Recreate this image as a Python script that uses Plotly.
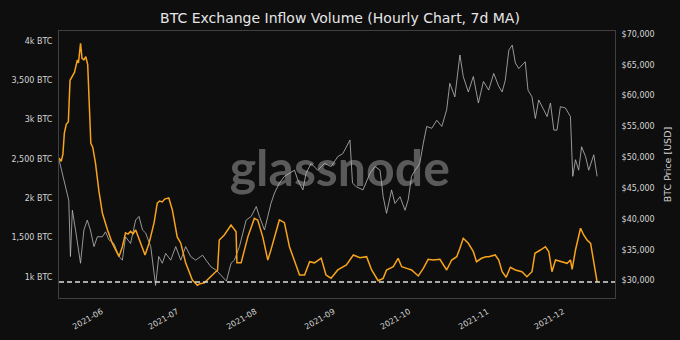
import plotly.graph_objects as go

# ---------------- data ----------------
inflow_dates = [
    "2021-05-15 04:00", "2021-05-16 00:00", "2021-05-16 16:00", "2021-05-17 06:00", "2021-05-18 00:00",
    "2021-05-18 20:00", "2021-05-19 12:00", "2021-05-20 12:00", "2021-05-21 06:00", "2021-05-22 10:00",
    "2021-05-22 20:00", "2021-05-23 16:00", "2021-05-24 06:00", "2021-05-25 00:00", "2021-05-25 18:00",
    "2021-05-26 12:00", "2021-05-27 00:00", "2021-05-27 18:00", "2021-05-28 12:00", "2021-05-29 14:00",
    "2021-05-30 22:00", "2021-06-01 08:00", "2021-06-03 08:00", "2021-06-05 06:00", "2021-06-07 22:00",
    "2021-06-09 06:00", "2021-06-10 12:00", "2021-06-11 12:00", "2021-06-12 12:00", "2021-06-13 12:00",
    "2021-06-14 12:00", "2021-06-16 12:00", "2021-06-18 06:00", "2021-06-19 20:00", "2021-06-21 20:00",
    "2021-06-23 02:00", "2021-06-24 00:00", "2021-06-25 02:00", "2021-06-26 00:00", "2021-06-27 16:00",
    "2021-06-29 02:00", "2021-07-01 00:00", "2021-07-02 10:00", "2021-07-04 08:00", "2021-07-07 00:00",
    "2021-07-09 00:00", "2021-07-10 00:00", "2021-07-11 18:00", "2021-07-13 16:00", "2021-07-15 16:00",
    "2021-07-17 00:00", "2021-07-17 16:00", "2021-07-19 16:00", "2021-07-22 08:00", "2021-07-24 08:00",
    "2021-07-24 16:00", "2021-07-26 08:00", "2021-07-29 00:00", "2021-07-31 14:00", "2021-08-01 22:00",
    "2021-08-03 22:00", "2021-08-05 22:00", "2021-08-07 04:00", "2021-08-10 12:00", "2021-08-12 12:00",
    "2021-08-14 12:00", "2021-08-16 12:00", "2021-08-18 12:00", "2021-08-20 12:00", "2021-08-22 12:00",
    "2021-08-24 10:00", "2021-08-27 02:00", "2021-08-29 00:00", "2021-08-31 00:00", "2021-09-02 16:00",
    "2021-09-05 02:00", "2021-09-06 02:00", "2021-09-08 20:00", "2021-09-11 10:00", "2021-09-14 02:00",
    "2021-09-16 02:00", "2021-09-18 16:00", "2021-09-20 16:00", "2021-09-22 00:00", "2021-09-24 16:00",
    "2021-09-26 14:00", "2021-09-28 00:00", "2021-09-30 00:00", "2021-10-01 22:00", "2021-10-04 14:00",
    "2021-10-06 14:00", "2021-10-08 12:00", "2021-10-10 12:00", "2021-10-13 04:00", "2021-10-15 20:00",
    "2021-10-17 20:00", "2021-10-19 20:00", "2021-10-21 02:00", "2021-10-22 10:00", "2021-10-24 10:00",
    "2021-10-26 10:00", "2021-10-27 16:00", "2021-10-29 16:00", "2021-10-31 10:00", "2021-11-01 12:00",
    "2021-11-04 02:00", "2021-11-05 12:00", "2021-11-06 20:00", "2021-11-08 10:00", "2021-11-10 02:00",
    "2021-11-12 02:00", "2021-11-14 16:00", "2021-11-16 16:00", "2021-11-18 16:00", "2021-11-19 20:00",
    "2021-11-22 00:00", "2021-11-24 00:00", "2021-11-25 08:00", "2021-11-26 14:00", "2021-11-28 00:00",
    "2021-11-30 14:00", "2021-12-02 14:00", "2021-12-03 22:00", "2021-12-04 14:00", "2021-12-05 22:00",
    "2021-12-07 22:00", "2021-12-09 04:00", "2021-12-10 12:00", "2021-12-11 22:00", "2021-12-13 20:00",
    "2021-12-14 12:00",
]
inflow_btc = [
    2510, 2470, 2560, 2830, 2940,
    2975, 3500, 3560, 3600, 3760,
    3720, 3970, 3780, 3760, 3800,
    3700, 3290, 2700, 2650, 2450,
    2100, 1810, 1600, 1430, 1260,
    1385, 1560, 1545, 1580, 1550,
    1600, 1430, 1280, 1430, 1690,
    1940, 1965, 1955, 1990, 2005,
    1850, 1510, 1430, 1180, 960,
    895, 915, 925, 985, 1050,
    1090, 1470, 1535, 1660, 1575,
    1180, 1180, 1510, 1745, 1725,
    1510, 1215, 1345, 1725, 1690,
    1385, 1215, 1025, 1025, 1195,
    1180, 1240, 1025, 985, 1090,
    1131, 1153, 1280, 1245, 1258,
    1089, 953, 983, 1089, 1131,
    1238, 1131, 1110, 1089, 1013,
    1110, 1225, 1216, 1225, 1089,
    1216, 1258, 1365, 1492, 1428,
    1322, 1194, 1238, 1258, 1258,
    1280, 1216, 1067, 996, 1123,
    1089, 1067, 1004, 1067, 1301,
    1343, 1385, 1322, 1067, 1216,
    1194, 1174, 1216, 1098, 1343,
    1620, 1534, 1470, 1428, 1067,
    935,
]

price_dates = [
    "2021-05-15 04:00", "2021-05-16 10:00", "2021-05-17 16:00", "2021-05-19 00:00", "2021-05-19 16:00",
    "2021-05-20 10:00", "2021-05-21 16:00", "2021-05-22 10:00", "2021-05-23 16:00", "2021-05-25 00:00",
    "2021-05-26 08:00", "2021-05-27 14:00", "2021-05-29 00:00", "2021-05-30 08:00", "2021-06-01 08:00",
    "2021-06-02 14:00", "2021-06-03 22:00", "2021-06-05 22:00", "2021-06-07 22:00", "2021-06-09 06:00",
    "2021-06-10 12:00", "2021-06-12 12:00", "2021-06-14 12:00", "2021-06-15 20:00", "2021-06-17 06:00",
    "2021-06-18 12:00", "2021-06-20 12:00", "2021-06-22 10:00", "2021-06-23 16:00", "2021-06-25 02:00",
    "2021-06-26 10:00", "2021-06-28 10:00", "2021-06-30 10:00", "2021-07-02 10:00", "2021-07-04 08:00",
    "2021-07-06 08:00", "2021-07-08 08:00", "2021-07-10 08:00", "2021-07-11 02:00", "2021-07-12 10:00",
    "2021-07-14 10:00", "2021-07-16 10:00", "2021-07-19 00:00", "2021-07-20 12:00", "2021-07-22 08:00",
    "2021-07-23 16:00", "2021-07-25 16:00", "2021-07-27 00:00", "2021-07-28 08:00", "2021-07-30 08:00",
    "2021-08-01 08:00", "2021-08-02 14:00", "2021-08-04 14:00", "2021-08-05 22:00", "2021-08-07 04:00",
    "2021-08-08 14:00", "2021-08-10 12:00", "2021-08-12 12:00", "2021-08-14 12:00", "2021-08-16 12:00",
    "2021-08-17 20:00", "2021-08-19 20:00", "2021-08-21 02:00", "2021-08-23 02:00", "2021-08-25 16:00",
    "2021-08-28 10:00", "2021-08-31 00:00", "2021-09-02 16:00", "2021-09-04 16:00", "2021-09-06 02:00",
    "2021-09-07 12:00", "2021-09-08 12:00", "2021-09-10 02:00", "2021-09-12 16:00", "2021-09-15 10:00",
    "2021-09-17 10:00", "2021-09-19 10:00", "2021-09-20 16:00", "2021-09-22 00:00", "2021-09-24 00:00",
    "2021-09-25 08:00", "2021-09-27 08:00", "2021-09-29 08:00", "2021-09-30 14:00", "2021-10-01 22:00",
    "2021-10-03 08:00", "2021-10-05 04:00", "2021-10-06 14:00", "2021-10-07 22:00", "2021-10-09 22:00",
    "2021-10-11 22:00", "2021-10-13 22:00", "2021-10-15 20:00", "2021-10-17 02:00", "2021-10-19 02:00",
    "2021-10-21 02:00", "2021-10-22 10:00", "2021-10-24 10:00", "2021-10-26 10:00", "2021-10-28 10:00",
    "2021-10-30 10:00", "2021-11-01 12:00", "2021-11-03 12:00", "2021-11-05 12:00", "2021-11-06 20:00",
    "2021-11-08 02:00", "2021-11-09 12:00", "2021-11-10 20:00", "2021-11-12 02:00", "2021-11-13 10:00",
    "2021-11-14 16:00", "2021-11-16 00:00", "2021-11-17 02:00", "2021-11-18 16:00", "2021-11-20 00:00",
    "2021-11-21 08:00", "2021-11-23 08:00", "2021-11-24 16:00", "2021-11-26 00:00", "2021-11-27 08:00",
    "2021-11-28 14:00", "2021-11-29 22:00", "2021-12-01 22:00", "2021-12-03 22:00", "2021-12-04 20:00",
    "2021-12-05 22:00", "2021-12-07 04:00", "2021-12-08 08:00", "2021-12-09 22:00", "2021-12-11 04:00",
    "2021-12-13 04:00", "2021-12-14 12:00",
]
price_usd = [
    49550, 47400, 45200, 43000, 33900,
    41400, 38200, 36000, 32800, 38200,
    39800, 38200, 35500, 37100, 37100,
    37900, 36600, 36000, 33900, 33300,
    37100, 36000, 39800, 40400, 38200,
    37700, 35500, 29200, 33900, 32800,
    34400, 33300, 35500, 33300, 35500,
    33900, 33300, 33900, 34100, 33300,
    32200, 31700, 30600, 29900, 32800,
    33300, 35500, 37700, 39800, 40400,
    42000, 40400, 38200, 40400, 42500,
    44200, 45800, 46900, 47400, 47900,
    46300, 44700, 47400, 49000, 47900,
    49000, 48500, 50100, 50600, 51700,
    52800, 45800, 45200, 44700, 47400,
    48500, 47900, 43600, 40900, 44700,
    42500, 43600, 41400, 43100, 46900,
    47900, 49000, 52300, 55000, 54700,
    56000, 55000, 57700, 62000, 59800,
    66600, 63100, 60600, 63100, 58800,
    62300, 60900, 63600, 61500, 60600,
    62500, 67400, 68200, 65300, 64400,
    65000, 65500, 60900, 59800, 56300,
    59300, 57700, 56600, 58800, 54400,
    54400, 58200, 58000, 56600, 46900,
    49600, 47900, 51700, 50100, 47900,
    50400, 46900,
]

month_ticks = ["2021-06-01", "2021-07-01", "2021-08-01", "2021-09-01",
               "2021-10-01", "2021-11-01", "2021-12-01"]
month_labels = ["2021-06", "2021-07", "2021-08", "2021-09", "2021-10", "2021-11", "2021-12"]

inflow_tickvals = [1000, 1500, 2000, 2500, 3000, 3500, 4000]
inflow_ticktext = ["1k BTC", "1,500 BTC", "2k BTC", "2,500 BTC", "3k BTC", "3,500 BTC", "4k BTC"]
price_tickvals = [30000, 35000, 40000, 45000, 50000, 55000, 60000, 65000, 70000]
price_ticktext = ["$30,000", "$35,000", "$40,000", "$45,000", "$50,000",
                  "$55,000", "$60,000", "$65,000", "$70,000"]

baseline_btc = 936  # dashed reference line (current level)

# ---------------- style ----------------
BG = "#0e0e0e"
TXT = "#d4d4d4"
FRAME = "#404040"
FONT = "DejaVu Sans"

fig = go.Figure()

fig.add_trace(go.Scatter(
    x=price_dates, y=price_usd, mode="lines", yaxis="y",
    line=dict(color="rgba(185,185,185,0.8)", width=1),
    showlegend=False, hoverinfo="skip",
))
fig.add_trace(go.Scatter(
    x=inflow_dates, y=inflow_btc, mode="lines", yaxis="y2",
    line=dict(color="#f7a31c", width=1.5),
    showlegend=False, hoverinfo="skip",
))

fig.add_shape(type="line", xref="paper", yref="y2", x0=0, x1=1,
              y0=baseline_btc, y1=baseline_btc,
              line=dict(color="#dcdcdc", width=1.5, dash="5px,3px"), layer="above")

# watermark behind traces
fig.add_shape(type="rect", xref="paper", yref="paper", x0=0.3, x1=0.71, y0=0.40, y1=0.59,
              line=dict(width=0), fillcolor="rgba(0,0,0,0)", layer="below",
              label=dict(text="glassnode", textposition="middle center",
                         font=dict(family="Lato", size=50, color="#5a5a5a", weight="bold")))

fig.update_layout(
    width=680, height=340,
    margin=dict(l=59, r=65, t=31, b=42, autoexpand=False),
    paper_bgcolor=BG, plot_bgcolor=BG,
    font=dict(family=FONT, color=TXT, size=8),
    title=dict(text="BTC Exchange Inflow Volume (Hourly Chart, 7d MA)",
               x=0.5, xanchor="center", y=1 - 18 / 340, yanchor="middle", yref="container",
               font=dict(family=FONT, size=14, color="#e6e6e6")),
    xaxis=dict(
        type="date", range=["2021-05-15 03:00", "2021-12-21 14:00"],
        tickmode="array", tickvals=month_ticks, ticktext=month_labels,
        tickangle=-30, tickfont=dict(size=8, color=TXT), automargin=False,
        showgrid=False, zeroline=False, showline=True, linecolor=FRAME, linewidth=1,
        mirror=True, ticks="", ticklabelstandoff=5,
    ),
    yaxis=dict(
        side="right", range=[27160, 70490], automargin=False,
        tickmode="array", tickvals=price_tickvals, ticktext=price_ticktext,
        tickfont=dict(size=8, color=TXT),
        title=dict(text="BTC Price [USD]", font=dict(size=9.5, color=TXT), standoff=10),
        showgrid=False, zeroline=False, showline=True, linecolor=FRAME, linewidth=1,
        ticks="", ticklabelstandoff=4,
    ),
    yaxis2=dict(
        side="left", overlaying="y", range=[733, 4127], automargin=False,
        tickmode="array", tickvals=inflow_tickvals, ticktext=inflow_ticktext,
        tickfont=dict(size=8, color=TXT),
        showgrid=False, zeroline=False, showline=True, linecolor=FRAME, linewidth=1,
        ticks="", ticklabelstandoff=4,
    ),
)

fig.write_html("out.html")
